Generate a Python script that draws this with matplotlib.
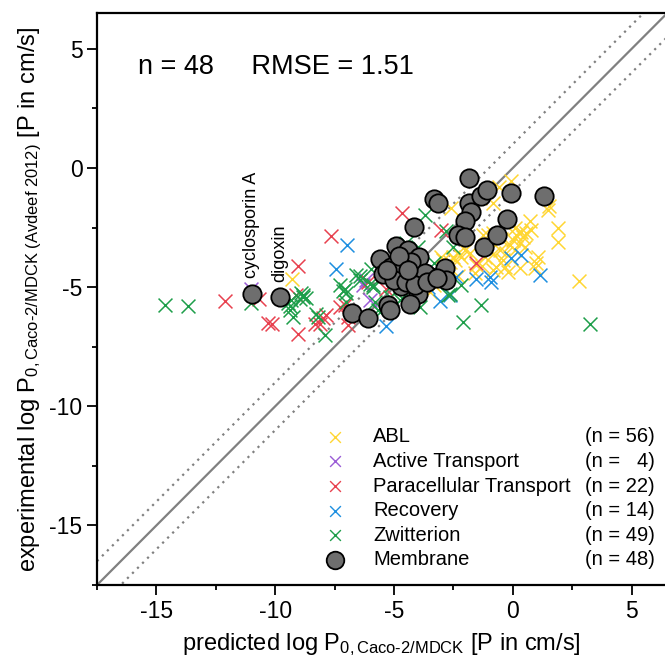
import matplotlib
matplotlib.use("Agg")
import matplotlib.pyplot as plt
import numpy as np

plt.rcParams["font.family"] = ["Liberation Sans", "DejaVu Sans"]
plt.rcParams["mathtext.fontset"] = "custom"
plt.rcParams["mathtext.rm"] = "Liberation Sans"
plt.rcParams["mathtext.it"] = "Liberation Sans:italic"
plt.rcParams["axes.unicode_minus"] = False

# predicted / experimental log P0 values, per category
abl_x = [-0.07, -0.60, -0.84, -1.40, -2.60, 1.47, 1.54, 0.70, 1.89, 1.89, 0.77, 0.35, 0.14, 0.42,
         0.00, 0.28, -0.14, 0.07, -0.28, 0.07, 0.55, -1.26, -1.05, -0.84, -0.98, -0.84, -1.19, -0.56,
         -0.42, 1.05, 0.98, 0.91, 0.28, -0.21, -0.35, -0.70, -0.84, 2.78, -2.03, -2.31, -2.52, -2.66,
         -1.61, -1.54, -3.50, -2.31, -3.01, -2.45, -2.17, -1.82, -9.29, -2.94, -0.50, 0.50, -1.30, -3.30]
abl_y = [-0.53, -0.78, -1.48, -1.27, -1.68, -1.76, -1.60, -2.24, -2.51, -3.10, -2.61, -2.68, -2.82, -2.89,
         -3.03, -3.16, -3.24, -3.45, -3.58, -2.53, -2.74, -2.82, -2.82, -2.74, -3.45, -3.62, -3.73, -3.45,
         -3.87, -3.73, -4.00, -4.22, -4.22, -4.36, -4.15, -4.15, -4.29, -4.75, -3.45, -3.58, -3.73, -3.94,
         -4.43, -4.08, -5.22, -4.54, -3.73, -3.87, -3.73, -3.58, -4.68, -3.87, -3.00, -3.30, -4.10, -4.90]

active_x = [-11.00, -6.17, -6.00, -6.30]
active_y = [-5.10, -4.71, -5.55, -4.90]

para_x = [-12.12, -10.70, -10.30, -7.64, -9.04, -10.14, -9.04, -9.11, -7.85, -8.34, -8.13,
          -7.29, -7.08, -6.94, -6.10, -4.66, -3.01, -1.54, -5.32, -6.94, -8.00, -3.80]
para_y = [-5.59, -5.50, -6.50, -2.84, -4.10, -6.56, -6.97, -5.34, -6.18, -6.53, -6.53,
          -5.83, -5.75, -6.25, -4.78, -1.90, -2.61, -4.00, -5.10, -6.60, -6.30, -4.90]

recovery_x = [-0.07, 0.35, -0.98, -0.91, 1.16, -2.38, -3.08, -2.66, -5.32, -6.98, -7.46, -3.58, -4.40, -1.55]
recovery_y = [-3.79, -3.66, -4.57, -4.78, -4.50, -4.57, -5.58, -5.34, -6.62, -3.22, -4.24, -4.98, -5.00, -4.65]

zwit_x = [-14.64, -13.67, -11.04, -9.47, -9.32, -9.39, -8.90, -8.83, -8.97, -8.69, -9.27, -8.27, -8.20,
          -7.92, -7.29, -7.08, -7.01, -7.01, -6.45, -5.95, -3.71, -2.52, -1.33, -2.10, 3.23, -2.73,
          -4.48, -2.66, -5.89, -5.61, -4.76, -6.03, -6.59, -6.45, -5.89, -5.82, -5.68, -5.18, -4.65,
          -3.92, -2.83, -7.15, -8.85, -9.40, -3.30, -4.00, -5.10, -3.50, -2.20]
zwit_y = [-5.76, -5.78, -5.66, -5.67, -5.55, -5.97, -5.26, -5.41, -5.50, -5.47, -6.26, -6.11, -6.25,
          -7.02, -4.92, -5.06, -5.26, -5.62, -4.54, -4.25, -1.97, -3.31, -5.76, -6.46, -6.55, -5.34,
          -3.16, -5.27, -4.92, -6.04, -5.55, -4.85, -4.50, -4.71, -5.00, -5.62, -5.97, -5.41, -5.47,
          -5.83, -2.63, -5.15, -5.35, -5.80, -4.00, -3.30, -4.90, -4.40, -4.90]

memb_x = [-10.98, -9.81, -6.75, -6.10, -5.26, -5.18, -5.58, -5.47, -5.11, -4.90, -4.69, -4.90,
          -4.42, -4.16, -3.95, -4.27, -4.63, -4.23, -3.92, -3.43, -2.87, -2.83, -3.99, -4.31,
          -3.32, -3.15, -1.85, -1.85, -1.75, -2.03, -2.31, -2.03, -1.23, -1.33, -1.08, -0.07,
          1.29, -0.25, -0.67, -5.00, -4.50, -3.70, -4.10, -4.80, -3.60, -5.30, -4.40, -3.20]
memb_y = [-5.27, -5.41, -6.10, -6.30, -5.76, -5.97, -3.84, -4.45, -4.15, -4.45, -4.94, -3.28,
          -3.45, -2.47, -3.73, -3.94, -4.22, -4.57, -4.57, -4.57, -4.22, -4.71, -5.27, -5.69,
          -1.32, -1.48, -0.43, -1.48, -1.84, -2.23, -2.82, -2.89, -3.31, -1.18, -0.94, -1.06,
          -1.18, -2.16, -2.82, -4.70, -4.80, -4.40, -4.90, -3.70, -4.80, -4.30, -4.30, -4.60]

names = ["ABL", "Active Transport", "Paracellular Transport", "Recovery", "Zwitterion", "Membrane"]
counts = ["(n = 56)", "(n =   4)", "(n = 22)", "(n = 14)", "(n = 49)", "(n = 48)"]
colors = ["#FFD633", "#9A5CD6", "#E8414F", "#1E8FE0", "#1E9E4A", "#6E6E6E"]

HY = "\u2010"  # real hyphen inside mathtext subscripts

fig = plt.figure(figsize=(6.65, 6.67), dpi=100)
ax = fig.add_axes([97 / 665, 1 - 585 / 667, 1 - 97 / 665, (585 - 13) / 667])

lim = np.array([-17.5, 6.5])
ax.plot(lim, lim, color="#808080", lw=1.6, zorder=1)
ax.plot(lim, lim + 1, color="#808080", lw=1.6, ls=(0, (1, 2.2)), zorder=1)
ax.plot(lim, lim - 1, color="#808080", lw=1.6, ls=(0, (1, 2.2)), zorder=1)

series = [(abl_x, abl_y), (active_x, active_y), (para_x, para_y),
          (recovery_x, recovery_y), (zwit_x, zwit_y)]
for (sx, sy), c in zip(series, colors[:5]):
    ax.scatter(sx, sy, marker="x", s=100, color=c, linewidths=1.1, zorder=2)
ax.scatter(memb_x, memb_y, marker="o", s=175, facecolor=colors[5], edgecolor="black",
           linewidths=1.3, zorder=3)

ax.annotate("cyclosporin A", (memb_x[0], memb_y[0]), xytext=(0, 11), textcoords="offset points",
            rotation=90, ha="center", va="bottom", fontsize=13)
ax.annotate("digoxin", (memb_x[1], memb_y[1]), xytext=(0, 11), textcoords="offset points",
            rotation=90, ha="center", va="bottom", fontsize=13)

ax.text(0.072, 0.905, "n = 48     RMSE = 1.51", transform=ax.transAxes, fontsize=19.5,
        ha="left", va="center")

# legend drawn by hand so the counts line up on the right
y0, dy = 0.259, 0.043
for i, (nm, ct, c) in enumerate(zip(names, counts, colors)):
    yy = y0 - i * dy
    if i < 5:
        ax.scatter([0.419], [yy], marker="x", s=60, color=c, linewidths=1.0,
                   transform=ax.transAxes, zorder=4)
    else:
        ax.scatter([0.419], [yy], marker="o", s=160, facecolor=c, edgecolor="black",
                   linewidths=1.3, transform=ax.transAxes, zorder=4)
    ax.text(0.486, yy, nm, transform=ax.transAxes, fontsize=14.5, va="center", ha="left")
    ax.text(0.982, yy, ct, transform=ax.transAxes, fontsize=14.5, va="center", ha="right")

ax.set_xlim(-17.5, 6.4)
ax.set_ylim(-17.5, 6.5)
ax.set_xticks([-15, -10, -5, 0, 5])
ax.set_yticks([-15, -10, -5, 0, 5])
ax.set_xticks(np.arange(-17.5, 6.5, 5), minor=True)
ax.set_yticks(np.arange(-17.5, 6.5, 5), minor=True)
ax.tick_params(which="major", direction="out", length=7, width=1.3, labelsize=16.5)
ax.tick_params(which="minor", direction="out", length=3.5, width=1.3)
ax.spines["right"].set_visible(False)
for s in ["left", "bottom", "top"]:
    ax.spines[s].set_linewidth(1.6)

ax.set_xlabel("predicted log P$_{\\mathrm{0,Caco" + HY + "2/MDCK}}$ [P in cm/s]",
              fontsize=17, labelpad=6)
ax.set_ylabel("experimental log P$_{\\mathrm{0,Caco" + HY + "2/MDCK\\ (Avdeef\\ 2012)}}$ [P in cm/s]",
              fontsize=17, labelpad=4)

fig.savefig("out.png", dpi=100)
